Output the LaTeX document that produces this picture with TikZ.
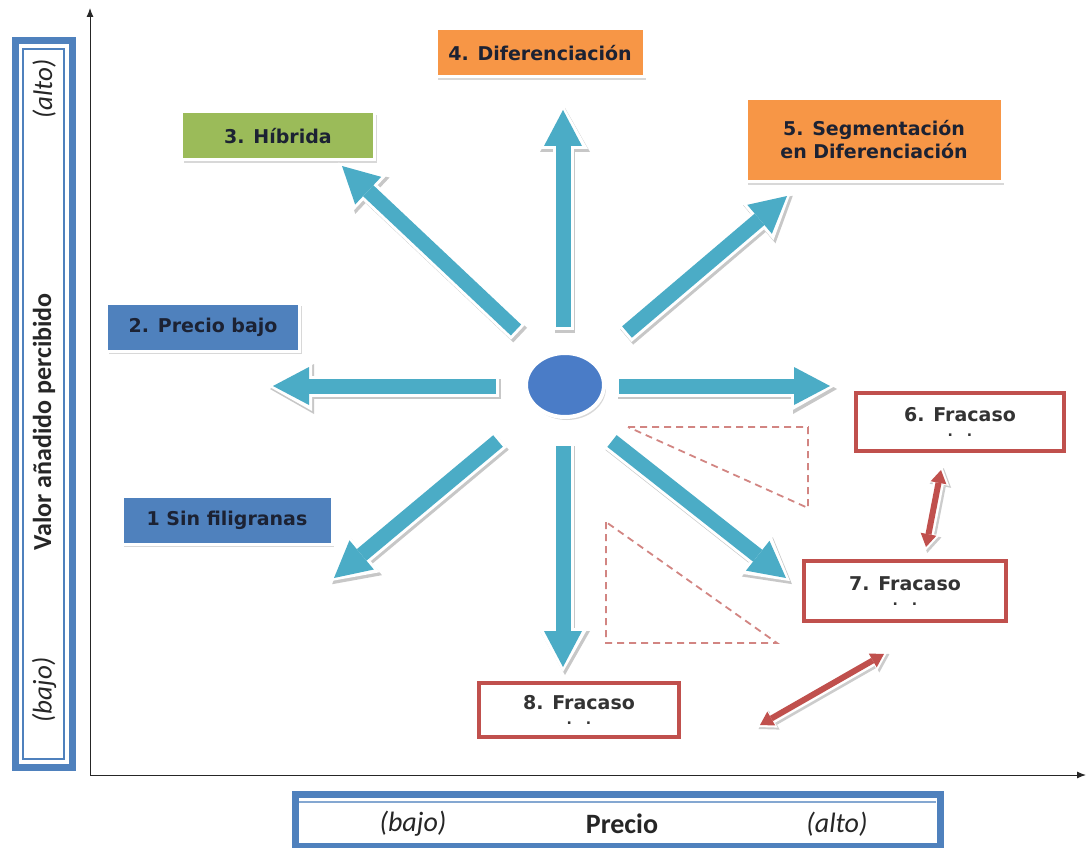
\documentclass[tikz,border=0pt]{standalone}
\usepackage{fontspec}
\setmainfont{DejaVu Sans}
\newfontfamily\axisfont{Carlito}
\usetikzlibrary{arrows.meta,shadows,shapes.geometric}
\definecolor{oran}{HTML}{F79646}
\definecolor{grn}{HTML}{9BBB59}
\definecolor{blu}{HTML}{4F81BD}
\definecolor{tealc}{HTML}{4BACC6}
\definecolor{redc}{HTML}{C0504D}
\definecolor{dashred}{HTML}{D28582}
\definecolor{ellblue}{HTML}{4A7CC7}
\definecolor{txt}{HTML}{1C2233}
\definecolor{txtg}{HTML}{333333}
\begin{document}
\begin{tikzpicture}[x=1pt,y=-1pt,
  fbox/.style={draw=white, line width=3pt, text=txt, inner sep=0pt,
    font=\bfseries\fontsize{19}{23}\selectfont, align=center,
    drop shadow={shadow xshift=2pt, shadow yshift=-3pt, opacity=0.3}},
  rbox/.style={draw=redc, line width=4pt, fill=white, text=txtg, inner sep=0pt,
    font=\bfseries\fontsize{19}{18}\selectfont, align=center},
  bigshadow/.style={line width=20pt, draw=black!22, shorten >=-5pt, shorten <=-3pt,
    -{Triangle[width=50pt,length=44pt,line width=0pt]}},
  bigwhite/.style={line width=21pt, draw=white, shorten >=-5pt, shorten <=-3pt,
    -{Triangle[width=50pt,length=44pt,line width=0pt]}},
  bigteal/.style={line width=15pt, draw=tealc,
    -{Triangle[width=38pt,length=36pt,line width=0pt]}},
  redshadow/.style={line width=11pt, draw=black!20, shorten >=-4pt, shorten <=-4pt,
    {Triangle[width=22pt,length=18pt,line width=0pt]}-{Triangle[width=22pt,length=18pt,line width=0pt]}},
  redwhite/.style={line width=11pt, draw=white, shorten >=-4pt, shorten <=-4pt,
    {Triangle[width=22pt,length=18pt,line width=0pt]}-{Triangle[width=22pt,length=18pt,line width=0pt]}},
  redarr/.style={line width=6pt, draw=redc,
    {Triangle[width=16pt,length=13pt,line width=0pt]}-{Triangle[width=16pt,length=13pt,line width=0pt]}},
  dashtri/.style={draw=dashred, line width=1.8pt, dash pattern=on 7pt off 5pt},
  axis/.style={line width=1pt, draw=black!85, -{Latex[length=9pt,width=7pt]}},
  lab/.style={text=black!85, inner sep=0pt}
]
\useasboundingbox (0,0) rectangle (1087,848);
\fill[white] (0,0) rectangle (1087,848);

% axes
\coordinate (o) at (90,775);
\coordinate (ytop) at (90,8);
\coordinate (xend) at (1086,775);
\draw[axis] (o) -- (ytop);
\draw[axis] (o) -- (xend);

% left axis label box
\draw[blu, line width=7pt, fill=white] (15,41) rectangle (72,767);
\draw[blu, line width=1.6pt] (23,49) rectangle (64,759);
\node[lab, rotate=90, font=\axisfont\itshape\fontsize{27}{30}\selectfont] (yalto) at (44,89) {(alto)};
\node[lab, rotate=90, font=\axisfont\bfseries\fontsize{26}{30}\selectfont] (ylab) at (44,422) {Valor añadido percibido};
\node[lab, rotate=90, font=\axisfont\itshape\fontsize{27}{30}\selectfont] (ybajo) at (44,690) {(bajo)};

% bottom axis label box
\draw[blu, line width=7pt, fill=white] (295,794) rectangle (940,846);
\draw[blu!70, line width=1.4pt] (299,802) -- (936,802);
\node[lab, font=\axisfont\itshape\fontsize{28}{30}\selectfont] (xbajo) at (413,824) {(bajo)};
\node[lab, font=\axisfont\bfseries\fontsize{28}{30}\selectfont] (xlab) at (622,824) {Precio};
\node[lab, font=\axisfont\itshape\fontsize{28}{30}\selectfont] (xalto) at (837,824) {(alto)};

% strategy boxes
\node[fbox, fill=oran, minimum width=208pt, minimum height=48pt] (b4) at (540,53) {4. Diferenciación};
\node[fbox, fill=grn, minimum width=193pt, minimum height=48pt] (b3) at (278,136) {3. Híbrida};
\node[fbox, fill=oran, minimum width=256pt, minimum height=83pt] (b5) at (874,140) {5. Segmentación\\en Diferenciación};
\node[fbox, fill=blu, minimum width=193pt, minimum height=48pt] (b2) at (203,327) {2. Precio bajo};
\node[fbox, fill=blu, minimum width=210pt, minimum height=48pt] (b1) at (227,520) {1 Sin filigranas};
\node[rbox, minimum width=208pt, minimum height=58pt] (b6) at (960,422) {6. Fracaso\\[-3pt]{\fontsize{14}{14}\selectfont .\hspace{14pt}.}};
\node[rbox, minimum width=202pt, minimum height=60pt] (b7) at (905,591) {7. Fracaso\\[-3pt]{\fontsize{14}{14}\selectfont .\hspace{14pt}.}};
\node[rbox, minimum width=200pt, minimum height=54pt] (b8) at (579,710) {8. Fracaso\\[-3pt]{\fontsize{14}{14}\selectfont .\hspace{14pt}.}};

% centre
\node[ellipse, fill=ellblue, draw=white, line width=4pt, minimum width=78pt, minimum height=64pt,
  drop shadow={shadow xshift=2pt, shadow yshift=-3pt, opacity=0.3}] (c) at (565,385) {};

% arrow end points
\coordinate (s4) at (563,327); \coordinate (e4) at (563,110);
\coordinate (s5) at (627,332); \coordinate (e5) at (787,196);
\coordinate (s6) at (619,386); \coordinate (e6) at (830,386);
\coordinate (s7) at (612,441); \coordinate (e7) at (786,578);
\coordinate (s8) at (563,446); \coordinate (e8) at (563,667);
\coordinate (s1) at (498,441); \coordinate (e1) at (334,578);
\coordinate (s2) at (496,386); \coordinate (e2) at (273,386);
\coordinate (s3) at (516,330); \coordinate (e3) at (342,166);

\foreach \i in {4,5,6,7,8,1,2,3} {
  \draw[bigshadow, transform canvas={xshift=2pt,yshift=-3pt}] (s\i) -- (e\i);
}
\foreach \i in {4,5,6,7,8,1,2,3} {
  \draw[bigwhite] (s\i) -- (e\i);
}
\foreach \i in {4,5,6,7,8,1,2,3} {
  \draw[bigteal] (s\i) -- (e\i);
}

% dashed triangles
\coordinate (ta) at (628,427); \coordinate (tb) at (808,427); \coordinate (tc) at (808,508);
\draw[dashtri] (ta) -- (tb) -- (tc) -- cycle;
\coordinate (ua) at (606,522); \coordinate (ub) at (606,643); \coordinate (uc) at (777,643);
\draw[dashtri] (ua) -- (ub) -- (uc) -- cycle;

% red double arrows
\coordinate (r1a) at (941,470); \coordinate (r1b) at (926,547);
\coordinate (r2a) at (760,725); \coordinate (r2b) at (884,654);
\draw[redshadow, transform canvas={xshift=2pt,yshift=-2pt}] (r1a) -- (r1b);
\draw[redshadow, transform canvas={xshift=2pt,yshift=-2pt}] (r2a) -- (r2b);
\draw[redwhite] (r1a) -- (r1b);
\draw[redwhite] (r2a) -- (r2b);
\draw[redarr] (r1a) -- (r1b);
\draw[redarr] (r2a) -- (r2b);
\end{tikzpicture}
\end{document}
